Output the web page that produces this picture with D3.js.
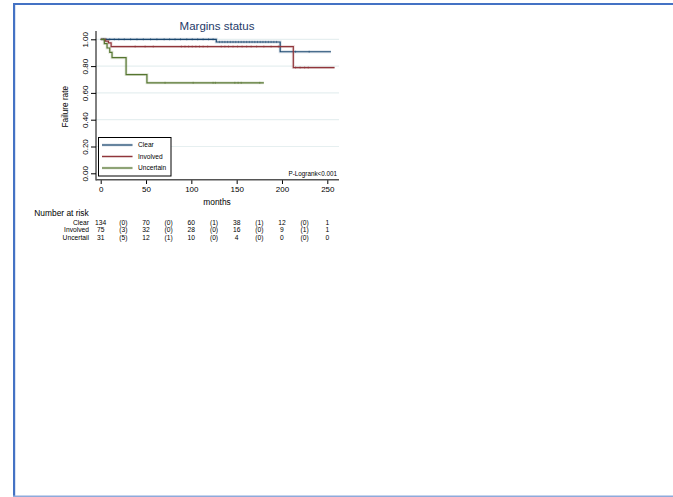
<!DOCTYPE html>
<html><head><meta charset="utf-8">
<script src="https://cdn.jsdelivr.net/npm/d3@7"></script>
<style>
body{margin:0;background:#fff;}
svg{display:block;font-family:"Liberation Sans",Arial,sans-serif;}
</style></head>
<body>
<svg id="c" width="673" height="497"></svg>
<script>
// ---- data ----
const seriesNames = ["Clear", "Involved", "Uncertain"];
const seriesColors = ["#1a476f", "#90353b", "#55752f"];
// Kaplan-Meier steps: [months, survival]
const clearSteps = [[0,1],[127.5,0.98],[198,0.907],[254,0.907]];
const involvedSteps = [[0,1],[5,0.987],[8.5,0.973],[11.5,0.946],[212.5,0.789],[258,0.789]];
const uncertainSteps = [[0,1],[4,0.968],[7,0.935],[10,0.903],[12.5,0.863],[28,0.737],[51,0.675],[180,0.675]];
// censoring marks (months)
const clearCensor = [3,6,10,15,20,26,33,40,47,55,62,70,76,82,88,95,101,107,113,119,124,131,134,137,140,143,146,149,152,155,158,161,164,167,170,173,176,179,182,185,188,191,194,215,230];
const involvedCensor = [38,49,58,89,93,97,101,105,109,113,118,133,137,141,146,151,156,161,166,172,180,188,196,215,220,225,229];
const uncertainCensor = [71,102,124,126.5,148,151.6,155,175.5];
const xTicks = [0,50,100,150,200,250];
const yTicks = [0,0.2,0.4,0.6,0.8,1.0];
const riskTimes = [0,25,50,75,100,125,150,175,200,225,250];
const riskLabels = ["Clear","Involved","Uncertail"];
const riskClear = ["134","(0)","70","(0)","60","(1)","38","(1)","12","(0)","1"];
const riskInvolved = ["75","(3)","32","(0)","28","(0)","16","(0)","9","(1)","1"];
const riskUncertain = ["31","(5)","12","(1)","10","(0)","4","(0)","0","(0)","0"];

const svg = d3.select("#c");
// frame
svg.append("rect").attr("x",13).attr("y",3).attr("width",660).attr("height",2).attr("fill","#4472c4");
svg.append("rect").attr("x",13).attr("y",3).attr("width",2.2).attr("height",494).attr("fill","#4472c4");
svg.append("rect").attr("x",13).attr("y",495.5).attr("width",660).attr("height",1.5).attr("fill","#8eaadb");

const x = d3.scaleLinear().domain([0,250]).range([100.7,327.3]);
const y = d3.scaleLinear().domain([0,1]).range([173.3,39.3]);

// gridlines
svg.append("g").selectAll("line").data(yTicks.filter(d=>d>0)).join("line")
  .attr("x1",96).attr("x2",339).attr("y1",d=>y(d)).attr("y2",d=>y(d))
  .attr("stroke","#e6eff0").attr("stroke-width",1.2);

// axes
const yAxis = svg.append("g").attr("transform","translate(96,0)")
  .call(d3.axisLeft(y).tickValues(yTicks).tickFormat(d3.format(".2f")).tickSize(5).tickPadding(0));
yAxis.select(".domain").remove();
yAxis.selectAll(".tick line").attr("stroke","#000");
yAxis.selectAll(".tick text").attr("font-size",8).attr("fill","#000")
  .attr("text-anchor","middle").attr("transform","translate(-8,0) rotate(-90)").attr("dy","0").attr("x",0).attr("y",0);
svg.append("line").attr("x1",96).attr("x2",96).attr("y1",31).attr("y2",180.5).attr("stroke","#000").attr("stroke-width",1);

const xAxis = svg.append("g").attr("transform","translate(0,180)")
  .call(d3.axisBottom(x).tickValues(xTicks).tickFormat(d3.format("d")).tickSize(4).tickPadding(2));
xAxis.select(".domain").remove();
xAxis.selectAll(".tick line").attr("stroke","#000");
xAxis.selectAll(".tick text").attr("font-size",8).attr("fill","#000");
svg.append("line").attr("x1",96).attr("x2",339).attr("y1",179.8).attr("y2",179.8).attr("stroke","#555").attr("stroke-width",1.6);

// curves
const line = d3.line().x(d=>x(d[0])).y(d=>y(d[1])).curve(d3.curveStepAfter);
const stepsAll = [clearSteps, involvedSteps, uncertainSteps];
const censorAll = [clearCensor, involvedCensor, uncertainCensor];
function survAt(steps,t){let s=1;for(const p of steps){if(p[0]<=t)s=p[1];}return s;}
stepsAll.forEach((st,i)=>{
  svg.append("path").datum(st).attr("d",line).attr("fill","none")
    .attr("stroke",seriesColors[i]).attr("stroke-width",3).attr("stroke-opacity",0.16);
  svg.append("path").datum(st).attr("d",line).attr("fill","none")
    .attr("stroke",seriesColors[i]).attr("stroke-width",1.2);
  svg.append("g").selectAll("line").data(censorAll[i]).join("line")
    .attr("x1",d=>x(d)).attr("x2",d=>x(d))
    .attr("y1",d=>y(survAt(st,d))-1.1).attr("y2",d=>y(survAt(st,d))+1.1)
    .attr("stroke",seriesColors[i]).attr("stroke-width",0.7).attr("stroke-opacity",0.7);
});

// title
svg.append("text").attr("x",217).attr("y",30).attr("text-anchor","middle")
  .attr("font-size",11.5).attr("fill","#1e3a68").text("Margins status");
// axis titles
svg.append("text").attr("transform","translate(68,106.7) rotate(-90)").attr("text-anchor","middle")
  .attr("font-size",8.2).attr("fill","#000").text("Failure rate");
svg.append("text").attr("x",217).attr("y",205).attr("text-anchor","middle")
  .attr("font-size",8.4).attr("fill","#000").text("months");

// legend
const lg = svg.append("g");
lg.append("rect").attr("x",98.5).attr("y",137.5).attr("width",72.5).attr("height",38.5)
  .attr("fill","#fff").attr("stroke","#000").attr("stroke-width",1);
const lgY = [145,156.5,168];
seriesNames.forEach((n,i)=>{
  lg.append("line").attr("x1",102).attr("x2",132.5).attr("y1",lgY[i]).attr("y2",lgY[i])
    .attr("stroke",seriesColors[i]).attr("stroke-width",3).attr("stroke-opacity",0.16);
  lg.append("line").attr("x1",102).attr("x2",132.5).attr("y1",lgY[i]).attr("y2",lgY[i])
    .attr("stroke",seriesColors[i]).attr("stroke-width",1.2);
  lg.append("text").attr("x",138).attr("y",lgY[i]+2.3).attr("font-size",6.6).attr("fill","#000").text(n);
});

// p-value
svg.append("text").attr("x",337).attr("y",175.8).attr("text-anchor","end")
  .attr("font-size",6.3).attr("fill","#000").text("P-Logrank<0.001");

// risk table
svg.append("text").attr("x",34.3).attr("y",216.2).attr("font-size",8.4).attr("fill","#000").text("Number at risk");
const riskRows = [riskClear, riskInvolved, riskUncertain];
const rowY = [224.5,232,239.5];
riskRows.forEach((row,i)=>{
  svg.append("text").attr("x",89).attr("y",rowY[i]).attr("text-anchor","end")
    .attr("font-size",6.7).attr("fill","#000").text(riskLabels[i]);
  svg.append("g").selectAll("text").data(row).join("text")
    .attr("x",(d,j)=>x(riskTimes[j])).attr("y",rowY[i]).attr("text-anchor","middle")
    .attr("font-size",6.7).attr("fill","#000").text(d=>d);
});
</script>
</body></html>
